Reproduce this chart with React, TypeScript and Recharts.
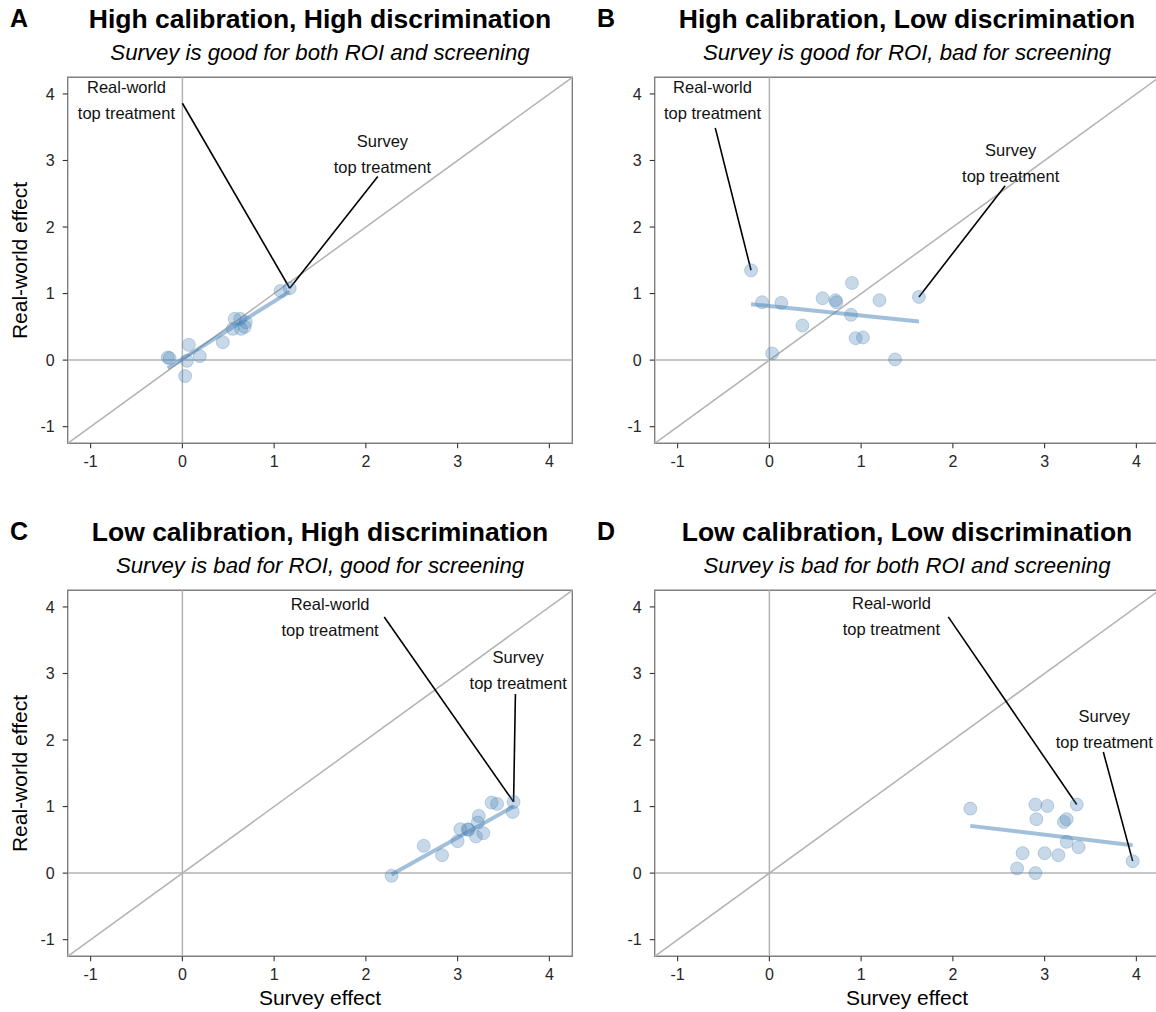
import {
  ReferenceArea,
  ReferenceDot,
  ReferenceLine,
  Scatter,
  ScatterChart,
  XAxis,
  YAxis,
} from "recharts";

const FONT = '"Liberation Sans", Arial, Helvetica, sans-serif';
const STEEL = "#4682b4";
const GUIDE = "#b3b3b3";

const axisTicks = [-1, 0, 1, 2, 3, 4];
const axisDomain: [number, number] = [-1.25, 4.25];

// panel A: high calibration, high discrimination
const surveyA = [-0.16, -0.14, 0.07, 0.05, 0.19, 0.03, 0.44, 0.57, 0.63, 0.55, 0.64, 0.69, 0.68, 1.07, 1.17];
const realA = [0.04, 0.03, 0.23, -0.01, 0.06, -0.24, 0.27, 0.62, 0.62, 0.47, 0.47, 0.57, 0.5, 1.04, 1.08];
const fitSurveyA = [-0.16, 1.17];
const fitRealA = [-0.12, 1.03];

// panel B: high calibration, low discrimination
const surveyB = [-0.2, -0.08, 0.13, 0.36, 0.03, 0.58, 0.72, 0.73, 0.9, 0.89, 0.94, 1.02, 1.2, 1.37, 1.63];
const realB = [1.35, 0.87, 0.86, 0.52, 0.1, 0.93, 0.9, 0.87, 1.16, 0.68, 0.33, 0.34, 0.9, 0.01, 0.95];
const fitSurveyB = [-0.2, 1.63];
const fitRealB = [0.84, 0.58];

// panel C: low calibration, high discrimination
const surveyC = [2.28, 2.63, 2.83, 3.0, 3.03, 3.11, 3.12, 3.2, 3.28, 3.23, 3.22, 3.37, 3.43, 3.61, 3.6];
const realC = [-0.04, 0.41, 0.27, 0.48, 0.66, 0.66, 0.65, 0.55, 0.6, 0.86, 0.76, 1.06, 1.04, 1.07, 0.92];
const fitSurveyC = [2.28, 3.61];
const fitRealC = [-0.02, 1.0];

// panel D: low calibration, low discrimination
const surveyD = [2.19, 2.9, 3.03, 3.35, 2.91, 3.24, 3.21, 3.24, 3.37, 2.76, 3.0, 3.15, 2.7, 2.9, 3.96];
const realD = [0.97, 1.03, 1.01, 1.03, 0.81, 0.81, 0.77, 0.47, 0.39, 0.3, 0.3, 0.27, 0.07, 0.0, 0.18];
const fitSurveyD = [2.19, 3.96];
const fitRealD = [0.71, 0.42];

const realWorldText = ["Real-world", "top treatment"];
const surveyText = ["Survey", "top treatment"];

// label centre, leader start, leader end (all in data units)
type Note = { lines: string[]; label: number[]; from: number[]; to: number[] };

const notesA: Note[] = [
  { lines: realWorldText, label: [-0.61, 3.915], from: [0.0, 3.86], to: [1.17, 1.08] },
  { lines: surveyText, label: [2.18, 3.1], from: [2.13, 2.76], to: [1.17, 1.08] },
];
const notesB: Note[] = [
  { lines: realWorldText, label: [-0.62, 3.915], from: [-0.59, 3.49], to: [-0.2, 1.35] },
  { lines: surveyText, label: [2.63, 2.955], from: [2.57, 2.62], to: [1.63, 0.95] },
];
const notesC: Note[] = [
  { lines: realWorldText, label: [1.61, 3.85], from: [2.2, 3.85], to: [3.61, 1.07] },
  { lines: surveyText, label: [3.66, 3.055], from: [3.63, 2.69], to: [3.61, 1.07] },
];
const notesD: Note[] = [
  { lines: realWorldText, label: [1.33, 3.87], from: [1.95, 3.85], to: [3.35, 1.03] },
  { lines: surveyText, label: [3.65, 2.16], from: [3.64, 1.82], to: [3.96, 0.18] },
];

const toPoints = (xs: number[], ys: number[]) => xs.map((x, i) => ({ x, y: ys[i] }));

const noteShape = (lines: string[]) => (p: any) => (
  <text textAnchor="middle" fontSize={16.5} fill="#111" fontFamily={FONT}>
    <tspan x={p.cx} y={p.cy - 7}>{lines[0]}</tspan>
    <tspan x={p.cx} y={p.cy + 19}>{lines[1]}</tspan>
  </text>
);

const dotShape = (p: any) => (
  <circle
    cx={p.cx}
    cy={p.cy}
    r={6.5}
    fill={STEEL}
    fillOpacity={0.3}
    stroke={STEEL}
    strokeOpacity={0.3}
    strokeWidth={1}
  />
);

const W = 590;
const H = 500;

function Panel({
  left,
  top,
  letter,
  title,
  subtitle,
  survey,
  real,
  fitX,
  fitY,
  notes,
  yTitle,
  xTitle,
}: {
  left: number;
  top: number;
  letter: string;
  title: string;
  subtitle: string;
  survey: number[];
  real: number[];
  fitX: number[];
  fitY: number[];
  notes: Note[];
  yTitle?: string;
  xTitle?: string;
}) {
  const data = toPoints(survey, real);

  return (
    <div style={{ position: "absolute", left, top, width: W, height: H }}>
      <ScatterChart
        width={W}
        height={H}
        margin={{ top: 77.3, right: 17.7, bottom: 26.7, left: 27.7 }}
      >
        <XAxis
          type="number"
          dataKey="x"
          domain={axisDomain}
          ticks={axisTicks}
          allowDataOverflow
          axisLine={false}
          tickSize={5}
          tickMargin={7}
          height={30}
          tick={{ fontSize: 16, fill: "#262626" }}
          tickLine={{ stroke: "#333", strokeWidth: 1.1 }}
        />
        <YAxis
          type="number"
          dataKey="y"
          domain={axisDomain}
          ticks={axisTicks}
          allowDataOverflow
          axisLine={false}
          tickSize={5}
          tickMargin={8}
          width={40}
          tick={{ fontSize: 16, fill: "#262626" }}
          tickLine={{ stroke: "#333", strokeWidth: 1.1 }}
        />

        <ReferenceLine y={0} stroke={GUIDE} strokeWidth={1.5} />
        <ReferenceLine x={0} stroke={GUIDE} strokeWidth={1.5} />
        <ReferenceLine
          segment={[
            { x: axisDomain[0], y: axisDomain[0] },
            { x: axisDomain[1], y: axisDomain[1] },
          ]}
          stroke={GUIDE}
          strokeWidth={1.5}
          ifOverflow="visible"
        />

        <ReferenceLine
          segment={[
            { x: fitX[0], y: fitY[0] },
            { x: fitX[1], y: fitY[1] },
          ]}
          stroke={STEEL}
          strokeOpacity={0.5}
          strokeWidth={4}
          ifOverflow="visible"
        />

        <Scatter data={data} shape={dotShape} isAnimationActive={false} />

        {notes.map((n, i) => (
          <ReferenceLine
            key={"seg" + i}
            segment={[
              { x: n.from[0], y: n.from[1] },
              { x: n.to[0], y: n.to[1] },
            ]}
            stroke="#000"
            strokeWidth={1.6}
            ifOverflow="visible"
          />
        ))}
        {notes.map((n, i) => (
          <ReferenceDot
            key={"lab" + i}
            x={n.label[0]}
            y={n.label[1]}
            r={0}
            ifOverflow="visible"
            shape={noteShape(n.lines)}
          />
        ))}

        <ReferenceArea
          x1={axisDomain[0]}
          x2={axisDomain[1]}
          y1={axisDomain[0]}
          y2={axisDomain[1]}
          fill="none"
          fillOpacity={0}
          stroke="#808080"
          strokeWidth={1.4}
          ifOverflow="visible"
        />
      </ScatterChart>

      <svg
        width={W}
        height={H}
        style={{ position: "absolute", left: 0, top: 0, pointerEvents: "none" }}
      >
        <text x={10} y={27} fontSize={25} fontWeight="bold" fill="#000">
          {letter}
        </text>
        <text x={320} y={27.5} fontSize={26.5} fontWeight="bold" fill="#000" textAnchor="middle">
          {title}
        </text>
        <text x={320} y={60} fontSize={22.2} fontStyle="italic" fill="#000" textAnchor="middle">
          {subtitle}
        </text>
        {yTitle && (
          <text
            x={26.5}
            y={260.5}
            fontSize={21}
            fill="#000"
            textAnchor="middle"
            transform="rotate(-90 26.5 260.5)"
          >
            {yTitle}
          </text>
        )}
        {xTitle && (
          <text x={320} y={492} fontSize={21} fill="#000" textAnchor="middle">
            {xTitle}
          </text>
        )}
      </svg>
    </div>
  );
}

export default function App() {
  return (
    <div
      style={{
        position: "absolute",
        left: 0,
        top: 0,
        width: 1156,
        height: 1012,
        overflow: "hidden",
        background: "#fff",
        fontFamily: FONT,
      }}
    >
      <Panel
        left={0}
        top={0}
        letter="A"
        title="High calibration, High discrimination"
        subtitle="Survey is good for both ROI and screening"
        survey={surveyA}
        real={realA}
        fitX={fitSurveyA}
        fitY={fitRealA}
        notes={notesA}
        yTitle="Real-world effect"
      />
      <Panel
        left={586.6}
        top={0}
        letter="B"
        title="High calibration, Low discrimination"
        subtitle="Survey is good for ROI, bad for screening"
        survey={surveyB}
        real={realB}
        fitX={fitSurveyB}
        fitY={fitRealB}
        notes={notesB}
      />
      <Panel
        left={0}
        top={513}
        letter="C"
        title="Low calibration, High discrimination"
        subtitle="Survey is bad for ROI, good for screening"
        survey={surveyC}
        real={realC}
        fitX={fitSurveyC}
        fitY={fitRealC}
        notes={notesC}
        yTitle="Real-world effect"
        xTitle="Survey effect"
      />
      <Panel
        left={586.6}
        top={513}
        letter="D"
        title="Low calibration, Low discrimination"
        subtitle="Survey is bad for both ROI and screening"
        survey={surveyD}
        real={realD}
        fitX={fitSurveyD}
        fitY={fitRealD}
        notes={notesD}
        xTitle="Survey effect"
      />
    </div>
  );
}
